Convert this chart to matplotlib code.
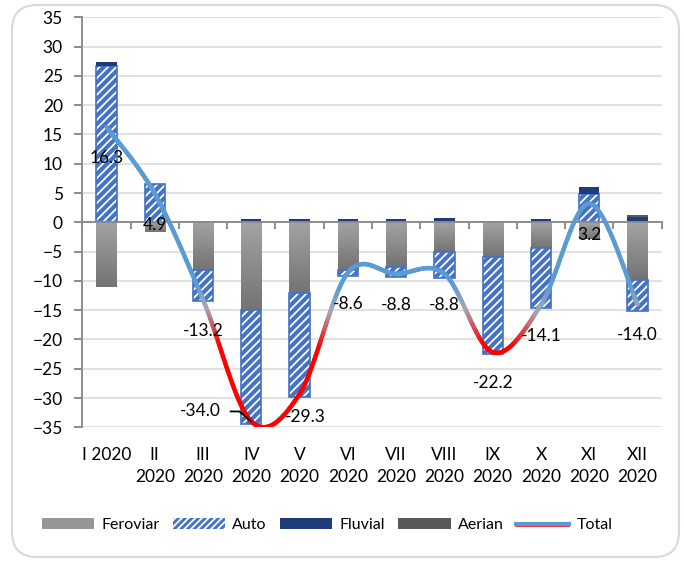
import numpy as np
import matplotlib
matplotlib.use("Agg")
import matplotlib.pyplot as plt
import matplotlib.patheffects as pe
from matplotlib.collections import LineCollection
from matplotlib.colors import LinearSegmentedColormap, Normalize
from matplotlib.patches import FancyBboxPatch, Patch
from matplotlib.lines import Line2D

plt.rcParams['font.family'] = ['Lato', 'DejaVu Sans']
plt.rcParams['hatch.linewidth'] = 1.3

months = ['I 2020', 'II\n2020', 'III\n2020', 'IV\n2020', 'V\n2020', 'VI\n2020',
          'VII\n2020', 'VIII\n2020', 'IX\n2020', 'X\n2020', 'XI\n2020', 'XII\n2020']
feroviar = [-11.0, -1.7, -8.1, -15.0, -12.0, -8.1, -7.6, -5.1, -5.9, -4.4, -2.8, -9.8]
auto = [26.7, 6.6, -5.4, -19.5, -17.9, -1.1, -1.7, -4.4, -16.6, -10.2, 4.9, -5.4]
fluvial = [0.6, 0.0, 0.3, 0.5, 0.6, 0.6, 0.5, 0.7, 0.3, 0.5, 1.1, 0.9]
aerian = [0, 0, 0, 0, 0, 0, 0, 0, 0, 0, 0, 0.3]
total = [16.3, 4.9, -13.2, -34.0, -29.3, -8.6, -8.8, -8.8, -22.2, -14.1, 3.2, -14.0]

blue = '#4472C4'
navy = '#1F3C7A'
line_blue = '#5B9BD5'
fs = 12.5

fig = plt.figure(figsize=(6.84, 5.61), dpi=100)
ax = fig.add_axes([82.3/684, 1-427.3/561, (661.7-82.3)/684, (427.3-17.3)/561])

x = np.arange(len(months))
w = 0.42
pos = np.zeros(len(x))
neg = np.zeros(len(x))

# feroviar - grey gradient bars
grad = np.linspace(0, 1, 100).reshape(-1, 1)
grey_cmap = LinearSegmentedColormap.from_list('g', ['#737373', '#a3a3a3'])
fv = np.array(feroviar)
for xi, v in zip(x, fv):
    ax.imshow(grad, extent=(xi - w/2, xi + w/2, v, 0), cmap=grey_cmap,
              aspect='auto', origin='lower', zorder=2)
neg += np.clip(fv, None, 0)

# auto - hatched
av = np.array(auto)
bottom = np.where(av >= 0, pos, neg)
ax.bar(x, av, w, bottom=bottom, color=blue, edgecolor='white', hatch='////', lw=0, zorder=2)
ax.bar(x, av, w, bottom=bottom, facecolor='none', edgecolor=blue, lw=1.2, zorder=2)
pos += np.clip(av, 0, None)
neg += np.clip(av, None, 0)

for vals, col in [(fluvial, navy), (aerian, '#595959')]:
    vals = np.array(vals)
    bottom = np.where(vals >= 0, pos, neg)
    ax.bar(x, vals, w, bottom=bottom, color=col, lw=0, zorder=2)
    pos += np.clip(vals, 0, None)
    neg += np.clip(vals, None, 0)


# smoothed total line (catmull-rom like excel)
def smooth(xs, ys, k=40):
    px = np.concatenate([[xs[0]], xs, [xs[-1]]])
    py = np.concatenate([[ys[0]], ys, [ys[-1]]])
    ox, oy = [], []
    t = np.linspace(0, 1, k)
    for i in range(1, len(px) - 2):
        for p, out in [(px, ox), (py, oy)]:
            p0, p1, p2, p3 = p[i-1], p[i], p[i+1], p[i+2]
            out.extend(0.5 * ((2*p1) + (-p0 + p2)*t + (2*p0 - 5*p1 + 4*p2 - p3)*t**2
                              + (-p0 + 3*p1 - 3*p2 + p3)*t**3))
    return np.array(ox), np.array(oy)


sx, sy = smooth(x.astype(float), np.array(total))
pts = np.column_stack([sx, sy]).reshape(-1, 1, 2)
segs = np.concatenate([pts[:-1], pts[1:]], axis=1)
norm = Normalize(-35, 35)
line_cmap = LinearSegmentedColormap.from_list('tot', [
    (0.0, '#FF0000'), (norm(-21), '#FF0000'), (norm(-15), '#A3A9B8'),
    (norm(-11), line_blue), (1.0, line_blue)])
lc = LineCollection(segs, cmap=line_cmap, norm=norm, lw=3.2, capstyle='round', zorder=4)
lc.set_array((sy[:-1] + sy[1:]) / 2)
ax.add_collection(lc)

# data labels
offsets = [(0, -31)] * len(total)
offsets[3] = (-51, 10)
offsets[4] = (6, -23)
for i, v in enumerate(total):
    if i == 3:
        ax.annotate(f'{v:.1f}', (x[i], v), xytext=offsets[i], textcoords='offset pixels',
                    ha='center', va='center', fontsize=fs, zorder=5,
                    arrowprops=dict(arrowstyle='-', color='black', lw=1.3, shrinkA=5, shrinkB=0,
                                    relpos=(1, 0.5),
                                    connectionstyle='angle,angleA=0,angleB=-40,rad=0'))
    else:
        ax.annotate(f'{v:.1f}', (x[i], v), xytext=offsets[i], textcoords='offset pixels',
                    ha='center', va='center', fontsize=fs, zorder=5)

ax.set_xlim(-0.5, len(x) - 0.5)
ax.set_ylim(-35, 35)
ax.set_yticks(np.arange(-35, 36, 5))
ax.grid(axis='y', color='#d9d9d9', lw=1.1, zorder=0)
ax.set_axisbelow(True)
for s in ['top', 'right']:
    ax.spines[s].set_visible(False)
ax.spines['left'].set_color('#8c8c8c')
ax.spines['left'].set_linewidth(1.4)
ax.spines['bottom'].set_position(('data', 0))
ax.spines['bottom'].set_color('#8c8c8c')
ax.spines['bottom'].set_linewidth(1.4)
ax.spines['bottom'].set_zorder(3)
ax.set_xticks(np.arange(len(x) + 1) - 0.5)
ax.tick_params(axis='x', length=5, width=1.4, color='#8c8c8c', labelbottom=False)
ax.tick_params(axis='y', length=6, width=1.4, color='#8c8c8c', labelsize=fs, pad=8)

sec = ax.secondary_xaxis('bottom')
sec.set_xticks(x, months)
sec.tick_params(length=0, pad=14, labelsize=fs)
sec.spines['bottom'].set_visible(False)
for lbl in sec.get_xticklabels():
    lbl.set_linespacing(1.45)

handles = [
    Patch(facecolor='#969696', edgecolor='none'),
    Patch(facecolor=blue, edgecolor='white', hatch='/////', lw=0),
    Patch(facecolor=navy, edgecolor='none'),
    Patch(facecolor='#595959', edgecolor='none'),
    Line2D([], [], color=line_blue, lw=3,
           path_effects=[pe.Stroke(offset=(0, -2.0), linewidth=1.2, foreground='red'),
                         pe.Normal()]),
]
fig.legend(handles, ['Feroviar', 'Auto', 'Fluvial', 'Aerian', 'Total'], ncol=5,
           loc='center', bbox_to_anchor=(0.478, 0.064), frameon=False, fontsize=11.5,
           handlelength=3.3, handleheight=0.7, handletextpad=0.45, columnspacing=0.8)

frame = FancyBboxPatch((0.12, 0.04), 6.67, 5.52, boxstyle='round,pad=0,rounding_size=0.25',
                       transform=fig.dpi_scale_trans, facecolor='none', edgecolor='#d9d9d9', lw=1.5)
fig.patches.append(frame)

fig.savefig('out.png', dpi=100)
